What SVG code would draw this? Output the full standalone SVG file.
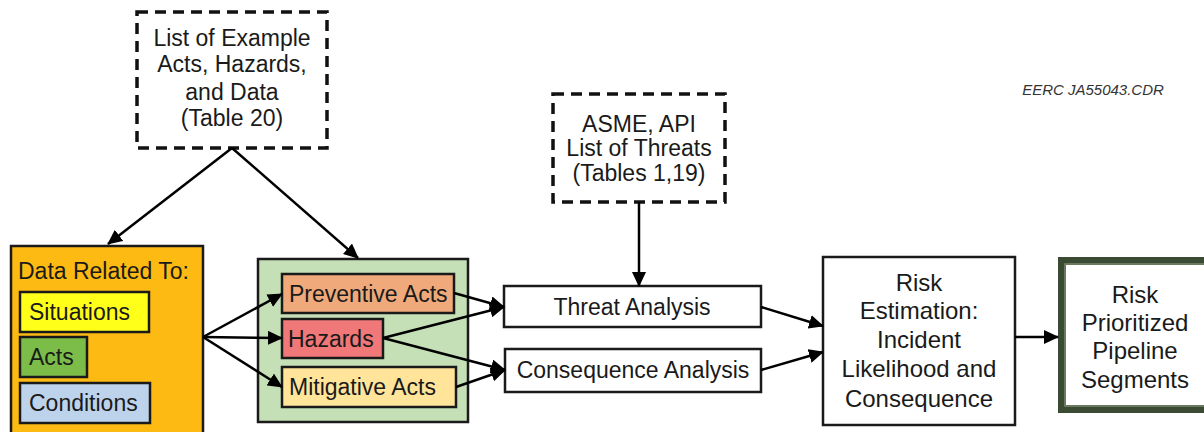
<svg xmlns="http://www.w3.org/2000/svg" width="1204" height="432" viewBox="0 0 1204 432">
<style>
text{font-family:"Liberation Sans",Arial,sans-serif;font-size:23px;fill:#1a1a1a}
.c{text-anchor:middle}
.l{font-size:24px}
.box{stroke:#1a1a1a;stroke-width:2.5}
.dash{fill:#fff;stroke:#111;stroke-width:3.5;stroke-dasharray:11 7}
.con{stroke:#000;stroke-width:2.5;fill:none;marker-end:url(#ah)}
</style>
<defs>
<marker id="ah" markerUnits="userSpaceOnUse" markerWidth="16" markerHeight="14" refX="14" refY="7" orient="auto">
<path d="M0,0 L15,7 L0,14 z" fill="#000"/>
</marker>
</defs>
<rect width="1204" height="432" fill="#fff"/>
<text x="1093" y="95" class="c" style="font-size:15px;font-style:italic;fill:#333">EERC JA55043.CDR</text>

<g id="examples">
<rect class="dash" x="137" y="12" width="190" height="136"/>
<text x="232" y="46" class="c">List of Example</text>
<text x="232" y="72" class="c">Acts, Hazards,</text>
<text x="232" y="100" class="c">and Data</text>
<text x="232" y="126" class="c">(Table 20)</text>
</g>

<g id="threats-list">
<rect class="dash" x="553" y="94" width="172" height="108"/>
<text x="639" y="132" class="c">ASME, API</text>
<text x="639" y="156" class="c">List of Threats</text>
<text x="639" y="181" class="c">(Tables 1,19)</text>
</g>

<g id="data">
<rect class="box" x="11" y="246" width="192" height="192" fill="#FDBA12"/>
<text x="18" y="279">Data Related To:</text>
<rect class="box" x="20" y="292" width="129" height="40" fill="#FFFF1A"/>
<text x="29" y="320">Situations</text>
<rect class="box" x="20" y="337" width="67" height="40" fill="#7CBD4A"/>
<text x="29" y="365">Acts</text>
<rect class="box" x="20" y="383" width="130" height="40" fill="#BDD3EC"/>
<text x="29" y="411">Conditions</text>
</g>

<g id="acts">
<rect class="box" x="258" y="259" width="210" height="163" fill="#C5E0B6"/>
<rect class="box" x="282" y="274" width="172" height="39" fill="#EFA97A"/>
<text x="289" y="302">Preventive Acts</text>
<rect class="box" x="282" y="319" width="101" height="39" fill="#F17878"/>
<text x="288" y="347">Hazards</text>
<rect class="box" x="282" y="367" width="174" height="40" fill="#FFE49A"/>
<text x="289" y="395">Mitigative Acts</text>
</g>

<g id="threat">
<rect class="box" x="504" y="286" width="257" height="41" fill="#fff"/>
<text x="632" y="315" class="c">Threat Analysis</text>
</g>

<g id="consequence">
<rect class="box" x="505" y="349" width="256" height="43" fill="#fff"/>
<text x="633" y="378" class="c">Consequence Analysis</text>
</g>

<g id="risk">
<rect class="box" x="823" y="257" width="192" height="168" fill="#fff"/>
<text x="919" y="291" class="c l">Risk</text>
<text x="919" y="319" class="c l">Estimation:</text>
<text x="919" y="348" class="c l">Incident</text>
<text x="919" y="377" class="c l">Likelihood and</text>
<text x="919" y="407" class="c l">Consequence</text>
</g>

<g id="prioritized">
<rect x="1062" y="261" width="160" height="148" fill="#fff" stroke="#3B4A33" stroke-width="8"/>
<rect x="1065" y="264" width="160" height="142" fill="none" stroke="#7A8A6E" stroke-width="1.5"/>
<text x="1135" y="303" class="c l">Risk</text>
<text x="1135" y="331" class="c l">Prioritized</text>
<text x="1135" y="359" class="c l">Pipeline</text>
<text x="1135" y="388" class="c l">Segments</text>
</g>

<g id="connectors">
<line class="con" x1="232" y1="148" x2="108" y2="244"/>
<line class="con" x1="232" y1="148" x2="358" y2="258"/>
<line class="con" x1="639" y1="202" x2="639" y2="286"/>
<line class="con" x1="203" y1="337" x2="282" y2="294"/>
<line class="con" x1="203" y1="337" x2="282" y2="338"/>
<line class="con" x1="203" y1="337" x2="282" y2="387"/>
<line class="con" x1="454" y1="293" x2="504" y2="307"/>
<line class="con" x1="383" y1="338" x2="504" y2="307"/>
<line class="con" x1="383" y1="338" x2="505" y2="370"/>
<line class="con" x1="456" y1="387" x2="505" y2="370"/>
<line class="con" x1="761" y1="307" x2="823" y2="326"/>
<line class="con" x1="761" y1="370" x2="823" y2="352"/>
<line class="con" x1="1015" y1="337" x2="1058" y2="337"/>
</g>
</svg>
